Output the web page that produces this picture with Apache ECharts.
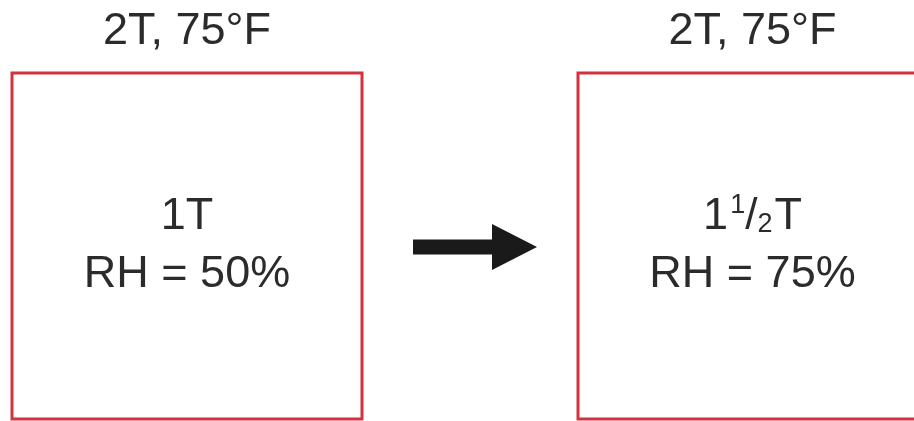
<!DOCTYPE html>
<html>
<head>
<meta charset="utf-8">
<script src="https://cdn.jsdelivr.net/npm/echarts@6/dist/echarts.min.js"></script>
<style>
  html, body { margin: 0; padding: 0; background: #fff; }
  #chart { width: 914px; height: 421px; }
</style>
</head>
<body>
<div id="chart"></div>
<script>
// two states of the same air volume: before -> after
var boxTitles = ['2T, 75°F', '2T, 75°F'];
var boxWater = ['1T', '1{sup|1}{sl|/}{sub|2}T'];
var boxRH = ['RH = 50%', 'RH = 75%'];
// box edges in diagram units (same scale as the canvas); right box runs off the edge
var boxLeft = [12, 578];
var boxRight = [362, 927];
var boxTop = [73, 73];
var boxBottom = [419, 419];
// arrow: shaft start, head start, tip, centre line
var arrowX = [413, 492, 537];
var arrowY = [247];

var red = '#d3323c';
var ink = '#2b2b2b';
var font = '"Liberation Sans", Arial, Helvetica, sans-serif';

var chart = echarts.init(document.getElementById('chart'));

var boxData = [];
for (var i = 0; i < boxTitles.length; i++) {
  boxData.push([boxLeft[i], boxTop[i], boxRight[i], boxBottom[i], i]);
}

var renderBox = function (params, api) {
  var i = api.value(4);
  var p0 = api.coord([api.value(0), api.value(1)]);
  var p1 = api.coord([api.value(2), api.value(3)]);
  var cx = (p0[0] + p1[0]) / 2;
  var cy = (p0[1] + p1[1]) / 2;
  return {
    type: 'group',
    children: [
      {
        type: 'rect',
        shape: { x: p0[0], y: p0[1], width: p1[0] - p0[0], height: p1[1] - p0[1] },
        style: { fill: '#fff', stroke: red, lineWidth: 3 }
      },
      {
        type: 'text',
        style: {
          text: boxTitles[i], x: cx, y: api.coord([0, 32])[1],
          align: 'center', verticalAlign: 'middle',
          fontSize: 45, fontFamily: font, fill: ink
        }
      },
      {
        type: 'text',
        style: {
          text: boxWater[i], x: cx, y: cy - 29,
          align: 'center', verticalAlign: 'middle',
          fontSize: 45, fontFamily: font, fill: ink, lineHeight: 50,
          rich: {
            sup: { fontSize: 27, fontFamily: font, fill: ink, verticalAlign: 'top', lineHeight: 50, padding: [0, 0, 0, 2] },
            sl: { fontSize: 44, fontFamily: font, fill: ink, lineHeight: 50 },
            sub: { fontSize: 27, fontFamily: font, fill: ink, verticalAlign: 'bottom', lineHeight: 50, padding: [0, 2, 4, 0] }
          }
        }
      },
      {
        type: 'text',
        style: {
          text: boxRH[i], x: cx, y: cy + 29,
          align: 'center', verticalAlign: 'middle',
          fontSize: 45, fontFamily: font, fill: ink
        }
      }
    ]
  };
};

var renderArrow = function (params, api) {
  var a = api.coord([api.value(0), api.value(3)]);
  var b = api.coord([api.value(1), api.value(3)]);
  var c = api.coord([api.value(2), api.value(3)]);
  var half = 7.5, head = 23;
  return {
    type: 'polygon',
    shape: {
      points: [
        [a[0], a[1] - half], [b[0], b[1] - half], [b[0], b[1] - head],
        [c[0], c[1]],
        [b[0], b[1] + head], [b[0], b[1] + half], [a[0], a[1] + half]
      ]
    },
    style: { fill: '#1a1a1a' }
  };
};

chart.setOption({
  backgroundColor: '#fff',
  animation: false,
  grid: { left: 0, right: 0, top: 0, bottom: 0 },
  xAxis: { type: 'value', min: 0, max: 914, show: false },
  yAxis: { type: 'value', min: 0, max: 421, inverse: true, show: false },
  series: [
    {
      type: 'custom',
      renderItem: renderBox,
      data: boxData,
      clip: false
    },
    {
      type: 'custom',
      renderItem: renderArrow,
      data: [[arrowX[0], arrowX[1], arrowX[2], arrowY[0]]],
      clip: false
    }
  ]
});
</script>
</body>
</html>
